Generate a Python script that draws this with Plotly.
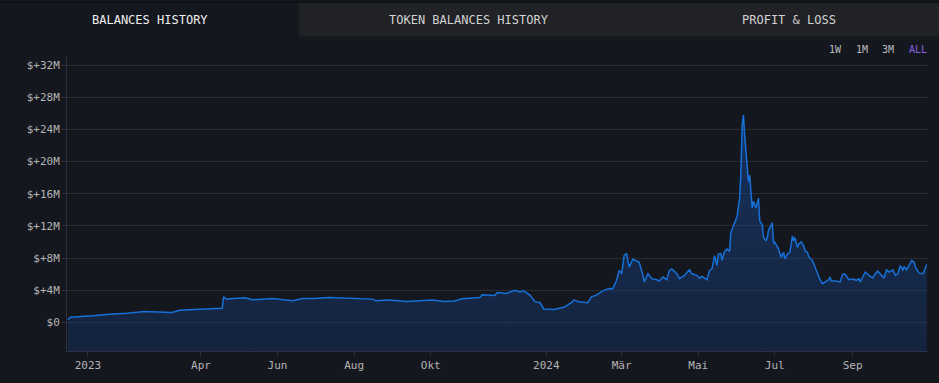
import plotly.graph_objects as go

# ---------------- data ----------------
dates = [
    "2022-12-16", "2022-12-18", "2023-01-05", "2023-01-18", "2023-02-01", "2023-02-15",
    "2023-03-09", "2023-03-15", "2023-03-31", "2023-04-13", "2023-04-18", "2023-04-19",
    "2023-04-21", "2023-05-06", "2023-05-12", "2023-05-28", "2023-06-13", "2023-06-21",
    "2023-06-30", "2023-07-12", "2023-08-16", "2023-08-18", "2023-08-29", "2023-09-12",
    "2023-10-02", "2023-10-12", "2023-10-20", "2023-10-26", "2023-11-09", "2023-11-11",
    "2023-11-21", "2023-11-23", "2023-11-30", "2023-12-07", "2023-12-11", "2023-12-14",
    "2023-12-19", "2023-12-23", "2023-12-27", "2023-12-30", "2024-01-07", "2024-01-15",
    "2024-01-21", "2024-01-23", "2024-01-27", "2024-02-03", "2024-02-06", "2024-02-10",
    "2024-02-15", "2024-02-20", "2024-02-23", "2024-02-26", "2024-02-28", "2024-03-01",
    "2024-03-03", "2024-03-05", "2024-03-07", "2024-03-10", "2024-03-12", "2024-03-15",
    "2024-03-18", "2024-03-19", "2024-03-22", "2024-03-25", "2024-03-29", "2024-03-31",
    "2024-04-03", "2024-04-06", "2024-04-08", "2024-04-10", "2024-04-14", "2024-04-16",
    "2024-04-20", "2024-04-24", "2024-04-26", "2024-04-30", "2024-05-02", "2024-05-04",
    "2024-05-08", "2024-05-10", "2024-05-12", "2024-05-14", "2024-05-16", "2024-05-17",
    "2024-05-19", "2024-05-20", "2024-05-22", "2024-05-24", "2024-05-26", "2024-05-27",
    "2024-05-30", "2024-06-01", "2024-06-03", "2024-06-04", "2024-06-05", "2024-06-06",
    "2024-06-07", "2024-06-08", "2024-06-09", "2024-06-10", "2024-06-11", "2024-06-12",
    "2024-06-13", "2024-06-14", "2024-06-16", "2024-06-18", "2024-06-19", "2024-06-21",
    "2024-06-22", "2024-06-24", "2024-06-25", "2024-06-26", "2024-06-29", "2024-06-30",
    "2024-07-01", "2024-07-04", "2024-07-06", "2024-07-08", "2024-07-09", "2024-07-11",
    "2024-07-13", "2024-07-15", "2024-07-16", "2024-07-17", "2024-07-19", "2024-07-20",
    "2024-07-22", "2024-07-24", "2024-07-25", "2024-07-27", "2024-07-28", "2024-07-31",
    "2024-08-02", "2024-08-04", "2024-08-06", "2024-08-08", "2024-08-11", "2024-08-13",
    "2024-08-14", "2024-08-15", "2024-08-18", "2024-08-22", "2024-08-24", "2024-08-26",
    "2024-08-29", "2024-09-01", "2024-09-04", "2024-09-06", "2024-09-07", "2024-09-09",
    "2024-09-11", "2024-09-14", "2024-09-17", "2024-09-19", "2024-09-21", "2024-09-24",
    "2024-09-26", "2024-09-28", "2024-09-30", "2024-10-03", "2024-10-05", "2024-10-07",
    "2024-10-09", "2024-10-11", "2024-10-12", "2024-10-14", "2024-10-16", "2024-10-18",
    "2024-10-20", "2024-10-21", "2024-10-23", "2024-10-24", "2024-10-27", "2024-10-28",
    "2024-10-30",
]

balances_musd = [
    0.33, 0.65, 0.82, 1.02, 1.14, 1.35,
    1.23, 1.51, 1.63, 1.75, 1.75, 3.19,
    2.91, 3.07, 2.82, 2.98, 2.70, 2.98,
    2.98, 3.10, 2.90, 2.70, 2.79, 2.61,
    2.79, 2.61, 2.66, 2.94, 3.10, 3.44,
    3.35, 3.72, 3.60, 4.01, 3.80, 3.93,
    3.40, 2.58, 2.45, 1.68, 1.60, 1.88,
    2.45, 2.79, 2.58, 2.45, 3.19, 3.40,
    3.93, 4.21, 4.20, 5.24, 6.47, 6.05,
    8.31, 8.59, 6.87, 7.89, 7.69, 7.48,
    5.85, 5.03, 6.05, 5.44, 5.31, 5.15,
    5.64, 5.31, 6.47, 6.66, 6.05, 5.44,
    5.85, 6.54, 6.05, 5.85, 5.50, 5.73,
    5.31, 6.47, 6.66, 8.31, 7.08, 8.50,
    8.59, 7.69, 8.83, 9.12, 8.83, 11.17,
    12.39, 13.21, 15.46, 18.74, 24.45, 25.77,
    23.23, 21.19, 19.14, 17.50, 18.30, 15.87,
    14.23, 15.06, 14.23, 15.46, 12.60, 12.18,
    10.55, 10.15, 10.55, 11.45, 12.39, 9.82,
    9.94, 9.12, 8.10, 8.71, 7.89, 8.50,
    8.71, 10.76, 10.15, 10.55, 9.33, 9.73,
    10.02, 9.53, 8.92, 8.71, 8.18, 7.69,
    6.87, 6.05, 5.31, 4.82, 5.15, 5.31,
    5.64, 5.15, 5.15, 5.03, 5.98, 5.98,
    5.31, 5.40, 5.24, 5.44, 5.03, 5.56,
    6.26, 5.85, 5.52, 6.05, 6.38, 5.85,
    5.52, 6.59, 6.26, 6.54, 5.85, 6.05,
    7.08, 6.47, 6.96, 6.54, 7.08, 7.69,
    7.48, 6.87, 6.34, 6.13, 6.05, 6.47,
    7.20,
]

tick_dates = ["2023-01-01", "2023-04-01", "2023-06-01", "2023-08-01", "2023-10-01",
              "2024-01-01", "2024-03-01", "2024-05-01", "2024-07-01", "2024-09-01"]
tick_labels = ["2023", "Apr", "Jun", "Aug", "Okt", "2024", "Mär", "Mai", "Jul", "Sep"]

y_ticks = [0, 4, 8, 12, 16, 20, 24, 28, 32]
y_tick_labels = ["$0", "$+4M", "$+8M", "$+12M", "$+16M", "$+20M", "$+24M", "$+28M", "$+32M"]

tabs = ["BALANCES HISTORY", "TOKEN BALANCES HISTORY", "PROFIT & LOSS"]
range_buttons = ["1W", "1M", "3M", "ALL"]

# ---------------- style / layout ----------------
W, H = 939, 383
ML, MR, MT, MB = 67, 11, 57, 26
PW, PH = W - ML - MR, H - MT - MB
Y_MIN, Y_MAX = -3.55, 33.0
X_RANGE = ["2022-12-15 08:00", "2024-10-31"]

BG = "#15171f"
MONO = "DejaVu Sans Mono, Liberation Mono, monospace"


def px(x):
    return (x - ML) / PW


def py(y):
    return (H - MB - y) / PH


fig = go.Figure()

# baseline at the bottom of the plot so the area fills down to the axis
fig.add_trace(go.Scatter(
    x=dates, y=[Y_MIN] * len(dates), mode="lines",
    line=dict(width=0, color="rgba(0,0,0,0)"), hoverinfo="skip", showlegend=False,
))
fig.add_trace(go.Scatter(
    x=dates, y=balances_musd, mode="lines",
    line=dict(color="#1570d8", width=1.5),
    fill="tonexty",
    fillgradient=dict(type="vertical",
                      colorscale=[[0, "rgba(20,60,120,0.35)"], [1, "rgba(25,90,190,0.38)"]]),
    showlegend=False,
))

shapes = []
annotations = []

# tab bar
tab_edges = [(0, 299), (299, 639), (639, W)]
for i, (name, (a, b)) in enumerate(zip(tabs, tab_edges)):
    if i > 0:
        shapes.append(dict(type="rect", xref="paper", yref="paper",
                           x0=px(a), x1=px(b), y0=py(36), y1=py(2),
                           fillcolor="#212226", line=dict(width=0), layer="below"))
    annotations.append(dict(text=name, xref="paper", yref="paper",
                            x=px((a + b) / 2), y=py(19), showarrow=False,
                            xanchor="center", yanchor="middle",
                            font=dict(family=MONO, size=12,
                                      color="#f0f0f0" if i == 0 else "#d2d2d2")))
# top dark strip
shapes.append(dict(type="rect", xref="paper", yref="paper",
                   x0=px(0), x1=px(W), y0=py(2), y1=py(0),
                   fillcolor="#0e1014", line=dict(width=0), layer="below"))

# range buttons
btn_x = [835, 862, 888, 918]
for name, bx in zip(range_buttons, btn_x):
    annotations.append(dict(text=name, xref="paper", yref="paper",
                            x=px(bx), y=py(49), showarrow=False,
                            xanchor="center", yanchor="middle",
                            font=dict(family=MONO, size=10,
                                      color="#8a63e0" if name == "ALL" else "#bdbdbd")))

fig.update_layout(
    width=W, height=H, autosize=False,
    margin=dict(l=ML, r=MR, t=MT, b=MB, pad=0),
    paper_bgcolor=BG, plot_bgcolor=BG,
    showlegend=False,
    shapes=shapes, annotations=annotations,
    font=dict(family=MONO, color="#a9a9a9"),
)
fig.update_xaxes(
    type="date", range=X_RANGE,
    tickvals=tick_dates, ticktext=tick_labels,
    showgrid=False, zeroline=False,
    showline=True, linecolor="#2c2f45", linewidth=1,
    ticks="outside", ticklen=4, tickcolor="#2c2f45",
    tickfont=dict(family=MONO, size=11, color="#b4b4b4"),
)
fig.update_yaxes(
    range=[Y_MIN, Y_MAX],
    tickvals=y_ticks, ticktext=y_tick_labels,
    showgrid=True, gridcolor="#2a2c31", gridwidth=1,
    zeroline=False,
    showline=True, linecolor="#2c2f45", linewidth=1,
    ticks="outside", ticklen=4, tickcolor="#2c2f45",
    tickfont=dict(family=MONO, size=11, color="#b4b4b4"),
)

fig.write_html("out.html",
               config={"displayModeBar": False},
               post_script="document.body.style.margin='0';document.body.style.background='#15171f';")
